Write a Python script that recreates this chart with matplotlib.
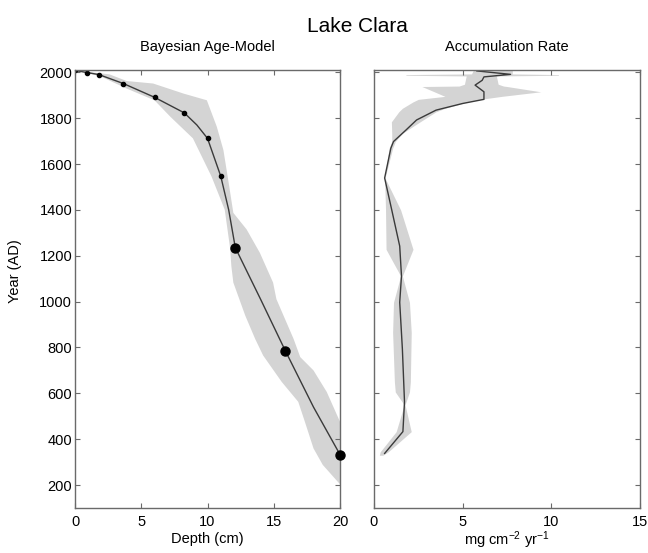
import numpy as np
import matplotlib
matplotlib.use("Agg")
import matplotlib.pyplot as plt

plt.rcParams["font.family"] = ["Liberation Sans", "DejaVu Sans"]
plt.rcParams["mathtext.fontset"] = "custom"
plt.rcParams["mathtext.rm"] = "Liberation Sans"
plt.rcParams["mathtext.it"] = "Liberation Sans"

# age model: dated levels (depth cm, year AD)
dot_depth = [0.0, 0.9, 1.8, 3.65, 6.0, 8.25, 10.0, 11.0]
dot_year = [2008, 1999, 1990, 1951, 1891, 1823, 1712, 1547]
big_depth = [12.1, 15.87, 20.0]
big_year = [1235, 786, 333]

# age model median line
line_depth = [0.0, 0.9, 1.8, 3.65, 6.0, 8.25, 9.2, 10.0, 11.0, 11.6, 12.1, 14.0, 15.87, 18.0, 20.0]
line_year = [2008, 1999, 1990, 1951, 1891, 1823, 1770, 1712, 1547, 1400, 1235, 1011, 786, 540, 333]

# age model uncertainty band edges
upper_depth = [0.0, 2.6, 3.9, 5.9, 8.2, 9.95, 10.7, 11.2, 11.6, 11.95, 12.95, 13.95, 14.95, 15.2, 16.5, 17.0, 18.0, 19.0, 20.0, 20.0]
upper_year = [2008, 1991, 1962, 1951, 1907, 1878, 1763, 1661, 1517, 1387, 1315, 1213, 1083, 1011, 837, 758, 700, 606, 476, 205]
lower_depth = [1.9, 3.9, 6.0, 7.2, 8.9, 10.3, 11.3, 11.7, 11.8, 11.95, 12.85, 13.6, 14.2, 15.6, 16.85, 17.35, 18.0, 18.7, 19.9]
lower_year = [1983, 1929, 1878, 1806, 1712, 1546, 1401, 1236, 1155, 1083, 939, 837, 765, 650, 563, 476, 360, 288, 210]

# accumulation rate median (mg cm-2 yr-1)
acc_year = [2006, 1991, 1980, 1965, 1944, 1915, 1882, 1864, 1835, 1792, 1748, 1698, 1669, 1539, 1400, 1242, 1112, 997, 794, 563, 433, 338]
acc_rate = [5.8, 7.7, 6.2, 6.1, 5.7, 6.2, 6.2, 5.0, 3.5, 2.4, 1.8, 1.1, 0.95, 0.6, 1.0, 1.45, 1.55, 1.45, 1.6, 1.72, 1.63, 0.6]

# accumulation rate band
band_year = [2009, 1993, 1990, 1987, 1984, 1948, 1940, 1938, 1915, 1895, 1882, 1871, 1843, 1828, 1784, 1734, 1698,
             1669, 1539, 1400, 1228, 1112, 997, 866, 650, 606, 550, 433, 345, 330]
band_min = [5.6, 5.5, 1.8, 1.8, 5.2, 5.1, 4.8, 2.7, 3.4, 4.0, 2.5, 2.2, 1.6, 1.4, 0.98, 1.0, 1.0,
            0.85, 0.6, 0.65, 0.68, 1.5, 1.1, 1.05, 1.15, 1.2, 1.7, 1.25, 0.35, 0.3]
band_max = [7.8, 7.8, 10.4, 10.4, 6.9, 7.0, 7.3, 7.5, 9.4, 7.2, 6.0, 5.3, 4.0, 3.5, 2.6, 1.6, 1.2,
            1.05, 0.62, 1.5, 2.2, 1.6, 2.0, 2.1, 2.05, 2.0, 1.75, 2.1, 0.8, 0.5]

band_color = "#d4d4d4"
line_color = "#3a3a3a"
spine_color = "#6a6a6a"

fig = plt.figure(figsize=(6.48, 5.53), dpi=100)
ax1 = fig.add_axes([75 / 648, 1 - 508 / 553, 265 / 648, 438 / 553])
ax2 = fig.add_axes([374 / 648, 1 - 508 / 553, 266 / 648, 438 / 553])

# left panel
poly_x = np.concatenate([upper_depth, lower_depth[::-1], [0.0]])
poly_y = np.concatenate([upper_year, lower_year[::-1], [2008]])
ax1.fill(poly_x, poly_y, color=band_color, lw=0)
ax1.plot(line_depth, line_year, color=line_color, lw=1)
ax1.plot(dot_depth, dot_year, "o", color="black", ms=3)
ax1.plot(big_depth, big_year, "o", color="black", ms=6.5, clip_on=False, zorder=5)
ax1.set_xlim(0, 20)
ax1.set_xticks([0, 5, 10, 15, 20])
ax1.set_xlabel("Depth (cm)", fontsize=10.5, labelpad=2)
ax1.set_ylabel("Year (AD)", fontsize=10.5)
ax1.yaxis.set_label_coords(-0.2, 0.54)
ax1.text(0.5, 1.043, "Bayesian Age-Model", transform=ax1.transAxes, ha="center", va="baseline", fontsize=10.5)

# right panel
ax2.fill_betweenx(band_year, band_min, band_max, color=band_color, lw=0)
ax2.plot(acc_rate, acc_year, color=line_color, lw=1)
ax2.set_xlim(0, 15)
ax2.set_xticks([0, 5, 10, 15])
ax2.set_xlabel(r"mg cm$^{-2}$ yr$^{-1}$", fontsize=10.5, labelpad=0.5)
ax2.tick_params(axis="y", labelleft=False)
ax2.text(0.5, 1.043, "Accumulation Rate", transform=ax2.transAxes, ha="center", va="baseline", fontsize=10.5)

for ax in (ax1, ax2):
    ax.set_ylim(100, 2010)
    ax.set_yticks(range(200, 2001, 200))
    ax.tick_params(direction="in", top=True, right=True, length=3.5, width=0.8,
                   color=spine_color, labelsize=10.5)
    ax.tick_params(axis="x", pad=5)
    ax.tick_params(axis="y", pad=2)
    for s in ax.spines.values():
        s.set_color(spine_color)
        s.set_linewidth(1.0)

fig.text(357.5 / 648, 1 - 32 / 553, "Lake Clara", ha="center", va="baseline", fontsize=15)

fig.savefig("out.png", dpi=100)
